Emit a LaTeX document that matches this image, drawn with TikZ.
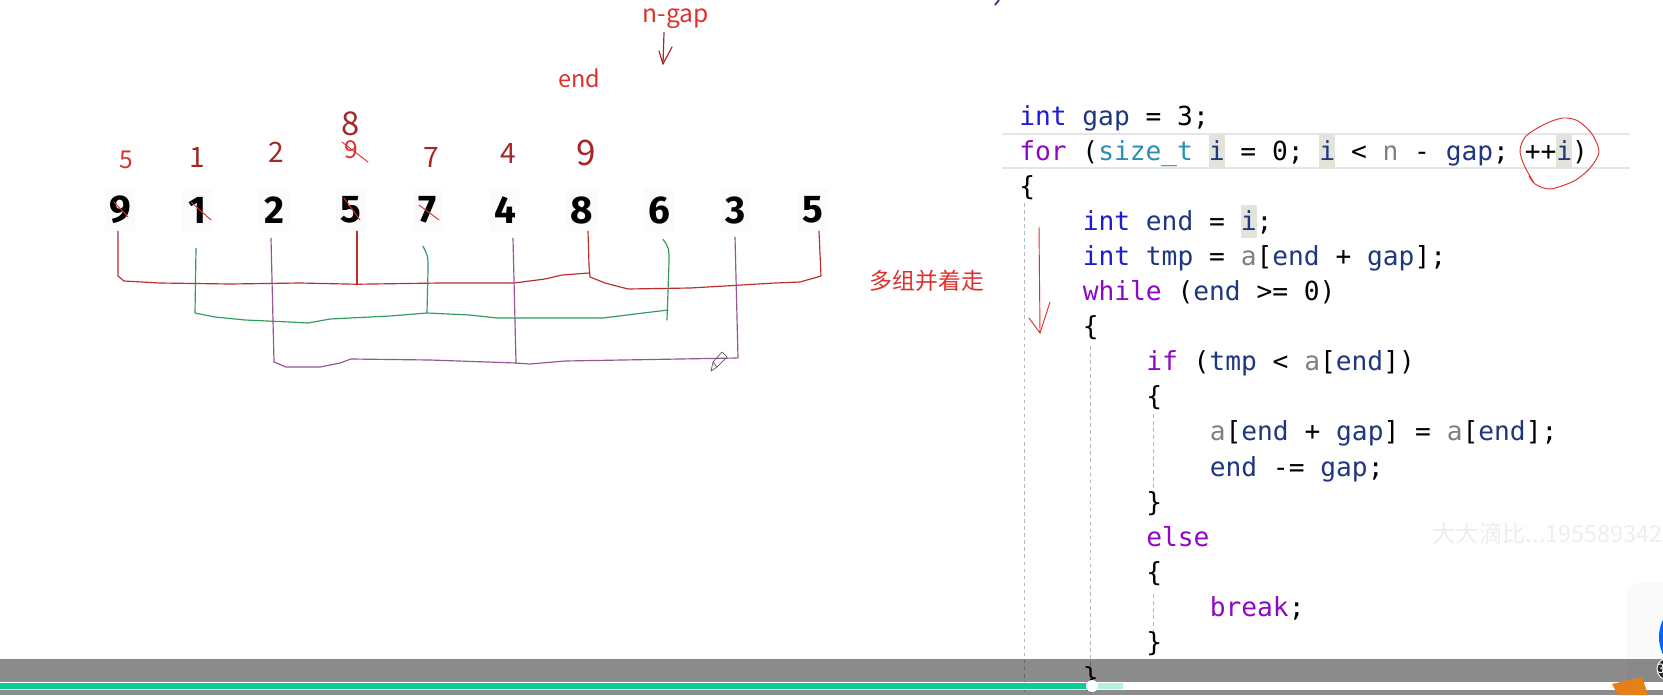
\documentclass[tikz,border=0pt]{standalone}
\usepackage{fontspec}
\usetikzlibrary{calc}
\setmainfont{Fira Sans}
\newfontfamily\codefont{DejaVu Sans Mono}
\newfontfamily\cjkfont{Noto Sans CJK SC}
\definecolor{kwblue}{RGB}{28,28,214}
\definecolor{kwpurple}{RGB}{143,8,196}
\definecolor{typeteal}{RGB}{43,145,175}
\definecolor{idnavy}{RGB}{31,55,127}
\definecolor{idgray}{RGB}{128,128,128}
\definecolor{hlbg}{RGB}{226,228,218}
\definecolor{penred}{RGB}{220,50,45}
\definecolor{pendark}{RGB}{165,40,40}
\definecolor{bracketred}{RGB}{185,45,45}
\definecolor{pengreen}{RGB}{50,155,95}
\definecolor{penpurple}{RGB}{150,85,150}
\definecolor{barteal}{RGB}{10,204,148}
\definecolor{guidegray}{RGB}{185,185,185}
\newcommand\kwint[1]{\textcolor{kwblue}{#1}}
\newcommand\kwctl[1]{\textcolor{kwpurple}{#1}}
\newcommand\kwtype[1]{\textcolor{typeteal}{#1}}
\newcommand\idv[1]{\textcolor{idnavy}{#1}}
\newcommand\idp[1]{\textcolor{idgray}{#1}}
\newcommand\hlv[1]{{\setlength\fboxsep{0pt}\colorbox{hlbg}{\rule[-6.5pt]{0pt}{28pt}\textcolor{idnavy}{#1}}}}
\begin{document}
\begin{tikzpicture}[x=0.03cm,y=-0.03cm,
  numcell/.style={fill=gray!3,minimum width=0.9cm,minimum height=1.26cm,inner sep=0pt,font=\fontsize{33}{33}\selectfont\bfseries},
  hand/.style={anchor=base,inner sep=0pt,text=pendark,font=\cjkfont\fontsize{24}{24}\selectfont},
  note/.style={anchor=base,inner sep=0pt,text=penred,font=\cjkfont\fontsize{21}{21}\selectfont},
  codeline/.style={anchor=base west,inner sep=0pt,font=\codefont\fontsize{22.4}{26}\selectfont},
  inkline/.style={line width=1pt,line join=round,line cap=round},
  guide/.style={guidegray,dash pattern=on 3pt off 3pt,line width=0.6pt}]
  \useasboundingbox (0,0) rectangle (1663,695);
  \clip (0,0) rectangle (1663,695);
  \fill[white] (0,0) rectangle (1663,695);
  \foreach \val [count=\k from 0] in {9,1,2,5,7,4,8,6,3,5}
    \node[numcell] (d\k) at ({120+77*\k},210) {\val};
  \node[note] (ngap) at (676,22) {n-gap};
  \coordinate (gaptip) at (663,64);
  \draw[inkline,pendark] ($(ngap.south)+(-12,4)$) -- (gaptip) -- (659,51);
  \draw[inkline,pendark] (gaptip) -- (672,47);
  \node[note,font=\cjkfont\fontsize{20}{20}\selectfont] (endlbl) at (579,87) {end};
  \node[note] (new0) at (126,168) {5};
  \node[note] (new3) at (351,158) {9};
  \node[hand,font=\cjkfont\fontsize{28}{28}\selectfont] (old3) at (351,135) {8};
  \node[hand] (old1) at (197,167) {1};
  \node[hand] (old2) at (276,162) {2};
  \node[hand] (old4) at (431,167) {7};
  \node[hand] (old5) at (508,163) {4};
  \node[hand,font=\cjkfont\fontsize{30}{30}\selectfont] (old6) at (586,165) {9};
  \foreach \ax/\ay/\bx/\by in {114/202/128/217,191/202/211/220,344/198/360/220,419/205/439/220,342/142/368/162}
    \draw[inkline,penred,line width=0.8pt] (\ax,\ay) -- (\bx,\by);
  \draw[inkline,bracketred] ($(d0.south)+(-2,0)$) -- (118,276) -- (124,281) -- (160,283) -- (230,284) -- (300,283) -- ($(d3.south)+(6,53)$) -- (440,283) -- (514,283) -- (545,279) -- (562,275) -- (589,273);
  \draw[inkline,bracketred] ($(d3.south)+(6,0)$) -- ($(d3.south)+(6,53)$);
  \draw[inkline,bracketred] ($(d6.south)+(6,0)$) -- (589,265) -- (590,277) -- (605,283) -- (628,289) -- (690,288) -- (725,286) -- (775,283) -- (800,282) -- (821,276) -- ($(d9.south)+(6,0)$);
  \draw[inkline,pengreen] ($(d1.south)+(-1,17)$) -- (195,313) -- (215,317) -- (245,320) -- (290,322) -- (308,323) -- (330,319) -- (390,316) -- (427,313) -- (470,315) -- (497,318) -- (560,318) -- (603,318) -- (635,314) -- (668,310);
  \draw[inkline,pengreen] ($(d4.south)+(-5,15)$) .. controls (428,256) .. (428,270) -- (427,313);
  \draw[inkline,pengreen] ($(d7.south)+(4,8)$) .. controls (669,248) .. (669,262) -- (667,320);
  \draw[inkline,penpurple] ($(d2.south)+(-3,7)$) -- (274,362) -- (286,367) -- (320,367) -- (340,363) -- (351,359) -- (430,360) -- (516,363) -- (530,364) -- (565,361) -- (737,358);
  \draw[inkline,penpurple] ($(d5.south)+(8,7)$) -- (516,363);
  \draw[inkline,penpurple] ($(d8.south)+(-1,6)$) -- (738,358);
  \draw[gray!70!black,line width=0.6pt,line join=round] (711,371) -- (713,362) -- (722,352) -- (727,357) -- (717,367) -- cycle (713,362) -- (717,367);
  \node[note,anchor=center,font=\cjkfont\fontsize{19.5}{20}\selectfont] (group) at (927,281) {多组并着走};
  \draw[gray!20,line width=1.5pt] (1002,134) -- (1630,134) (1002,168) -- (1630,168);
  \draw[guide] (1024,203) -- (1024,695);
  \draw[guide] (1090,346) -- (1090,695);
  \draw[guide] (1153,414) -- (1153,492);
  \draw[guide] (1153,594) -- (1153,634);
  \foreach \lvl/\txt [count=\k from 0] in {
      0/{\kwint{int} \idv{gap} = 3;},
      0/{\kwctl{for} (\kwtype{size\_t} \hlv{i} = 0; \hlv{i} < \idp{n} - \idv{gap}; ++\hlv{i})},
      0/{\{},
      1/{\kwint{int} \idv{end} = \hlv{i};},
      1/{\kwint{int} \idv{tmp} = \idp{a}[\idv{end} + \idv{gap}];},
      1/{\kwctl{while} (\idv{end} >= 0)},
      1/{\{},
      2/{\kwctl{if} (\idv{tmp} < \idp{a}[\idv{end}])},
      2/{\{},
      3/{\idp{a}[\idv{end} + \idv{gap}] = \idp{a}[\idv{end}];},
      3/{\idv{end} -= \idv{gap};},
      2/{\}},
      2/{\kwctl{else}},
      2/{\{},
      3/{\kwctl{break};},
      2/{\}},
      1/{\}}}
    \node[codeline] (c\k) at ({1019+63.5*\lvl},{125+35.1*\k}) {\txt};
  \draw[inkline,penred,line width=0.8pt] plot[smooth] coordinates {(1534,183) (1524,165) (1520,150) (1526,136) (1545,124) (1563,118) (1578,121) (1592,134) (1599,152) (1590,168) (1574,181) (1550,189) (1535,184) (1529,176)};
  \coordinate (flowtop) at (1039,227);
  \coordinate (flowend) at (1040,333);
  \draw[inkline,penred,line width=0.8pt] (flowtop) -- (flowend) -- (1029,318);
  \draw[inkline,penred,line width=0.8pt] (flowend) -- (1050,302);
  \node[anchor=west,inner sep=0pt,text=gray!13,font=\cjkfont\fontsize{20}{20}\selectfont] (mark) at (1432,533) {大大滴比...195589342};
  \draw[idnavy,line width=1.5pt] (995,5) -- (999,0);
  \fill[gray!4,rounded corners=0.3cm] (1627,583) rectangle (1690,720);
  \fill[blue!60!cyan] (1699,637) circle (1.2cm);
  \fill[black,fill opacity=0.45] (0,659) rectangle (1663,695);
  \fill[white] (0,682) rectangle (1663,690);
  \fill[barteal] (0,683) rectangle (1092,689);
  \fill[barteal!30] (1092,683) rectangle (1123,689);
  \fill[white] (1092,686) circle (0.18cm);
  \fill[orange!60!brown] (1612,684) -- (1642,677) -- (1648,695) -- (1618,695) -- cycle;
  \fill[black!85,draw=white,line width=0.8pt] (1668,669) circle (0.33cm);
  \node[text=white,inner sep=0pt,font=\fontsize{12}{12}\selectfont] (badge) at (1661,669) {3};
\end{tikzpicture}
\end{document}
